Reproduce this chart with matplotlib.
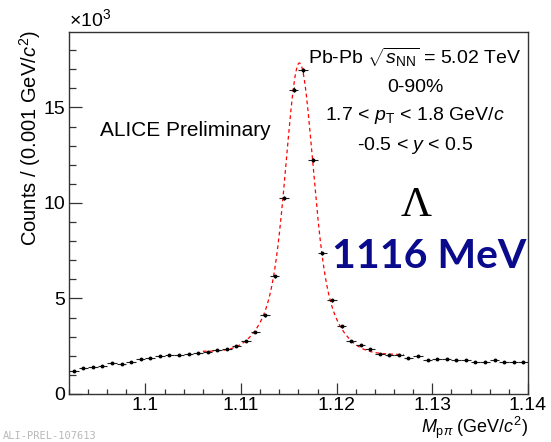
import numpy as np
import matplotlib
matplotlib.use("Agg")
import matplotlib.pyplot as plt
from matplotlib.ticker import MultipleLocator, FuncFormatter

plt.rcParams["font.family"] = ["Liberation Sans", "DejaVu Sans"]
plt.rcParams["mathtext.fontset"] = "custom"
plt.rcParams["mathtext.rm"] = "Liberation Sans"
plt.rcParams["mathtext.it"] = "Liberation Sans:italic"
plt.rcParams["mathtext.bf"] = "Liberation Sans:bold"

# Invariant-mass histogram, 1 MeV bins from 1.092 to 1.140 GeV/c^2
mass_lo = 1.092
bin_width = 0.001
counts = [1195, 1385, 1420, 1490, 1630, 1595, 1665, 1840, 1895, 2015, 2035, 2035,
          2090, 2140, 2175, 2280, 2350, 2525, 2755, 3265, 4120, 6175, 10260, 15930,
          16950, 12230, 7370, 4895, 3540, 2790, 2580, 2350, 2120, 2050, 2050, 1910,
          1965, 1775, 1825, 1840, 1805, 1790, 1685, 1685, 1755, 1700, 1650, 1685]

# Signal fit: double Gaussian on a linear background
fit_range = (1.106, 1.127)
fit_mean = 1.1161
fit_amp_narrow = 10780
fit_sigma_narrow = 0.0013
fit_amp_wide = 4400
fit_sigma_wide = 0.0028
fit_bkg_at_mean = 2150
fit_bkg_slope = -8000.0

counts = np.array(counts, dtype=float)
centers = mass_lo + bin_width * (np.arange(len(counts)) + 0.5)
yerr = np.sqrt(counts)

def fit_func(m):
    d = m - fit_mean
    return (fit_amp_narrow * np.exp(-0.5 * (d / fit_sigma_narrow) ** 2)
            + fit_amp_wide * np.exp(-0.5 * (d / fit_sigma_wide) ** 2)
            + fit_bkg_at_mean + fit_bkg_slope * d)

fig = plt.figure(figsize=(5.51, 4.42), dpi=100)
ax = fig.add_axes([69 / 551, 1 - 394 / 442, (528 - 69) / 551, (394 - 32) / 442])

m_fit = np.linspace(fit_range[0], fit_range[1], 600)
ax.plot(m_fit, fit_func(m_fit), color="red", lw=0.9, ls=(0, (3, 2.5)), zorder=2)

ax.errorbar(centers, counts, xerr=bin_width / 2, yerr=yerr, fmt="o", ms=1.8,
            color="black", ecolor="#202020", elinewidth=0.8, capsize=0, zorder=3)

ax.set_xlim(mass_lo, mass_lo + bin_width * len(counts))
ax.set_ylim(0, 18950)

ax.xaxis.set_major_locator(MultipleLocator(0.01))
ax.xaxis.set_minor_locator(MultipleLocator(0.002))
ax.yaxis.set_major_locator(MultipleLocator(5000))
ax.yaxis.set_minor_locator(MultipleLocator(1000))
ax.xaxis.set_major_formatter(FuncFormatter(lambda v, p: "1.1" if abs(v - 1.1) < 1e-9 else f"{v:.2f}"))
ax.yaxis.set_major_formatter(FuncFormatter(lambda v, p: f"{v / 1000:.0f}"))

ax.tick_params(axis="both", which="both", direction="in", top=False, right=False,
               labelsize=14, width=0.9, color="#333333")
ax.tick_params(axis="y", which="major", length=9.4, pad=3)
ax.tick_params(axis="y", which="minor", length=4.7)
ax.tick_params(axis="x", which="major", length=7.7, pad=2.5)
ax.tick_params(axis="x", which="minor", length=3.8)
for s in ax.spines.values():
    s.set_linewidth(1.0)
    s.set_color("#333333")

fig.text(69 / 551, 1 - 19 / 442, r"$\times$10$^{3}$", fontsize=14, ha="left", va="center")

fig.text(30 / 551, 1 - 30 / 442, r"Counts / (0.001 GeV/$c^{2}$)", fontsize=14.5,
         rotation=90, ha="center", va="top")
fig.text(528 / 551, 1 - 441 / 442, r"$M_{\mathrm{p}\pi}$ (GeV/$c^{2}$)", fontsize=13,
         ha="right", va="bottom")

fig.text(100 / 551, 1 - 131 / 442, "ALICE Preliminary", fontsize=15,
         ha="left", va="center")

cx = 415 / 551
info = [(57, r"Pb-Pb $\sqrt{s_{\mathrm{NN}}}$ = 5.02 TeV"),
        (88, "0-90%"),
        (116, r"1.7 < $p_{\mathrm{T}}$ < 1.8 GeV/$c$"),
        (145, r"-0.5 < $y$ < 0.5")]
for ypix, txt in info:
    fig.text(cx, 1 - ypix / 442, txt, fontsize=14, ha="center", va="center")

fig.text(416 / 551, 1 - 206 / 442, "Λ", fontsize=31, ha="center", va="center",
         family=["Liberation Serif", "DejaVu Serif"])
fig.text(429 / 551, 1 - 257 / 442, "1116 MeV", fontsize=29.5, ha="center", va="center",
         color="#0a0a8c", fontweight="bold", family=["Lato", "DejaVu Sans"])

fig.text(3 / 551, 1 - 436 / 442, "ALI-PREL-107613", fontsize=7.5, color="#b8b8b8",
         ha="left", va="center", family=["DejaVu Sans Mono"])

fig.savefig("out.png", dpi=100)
